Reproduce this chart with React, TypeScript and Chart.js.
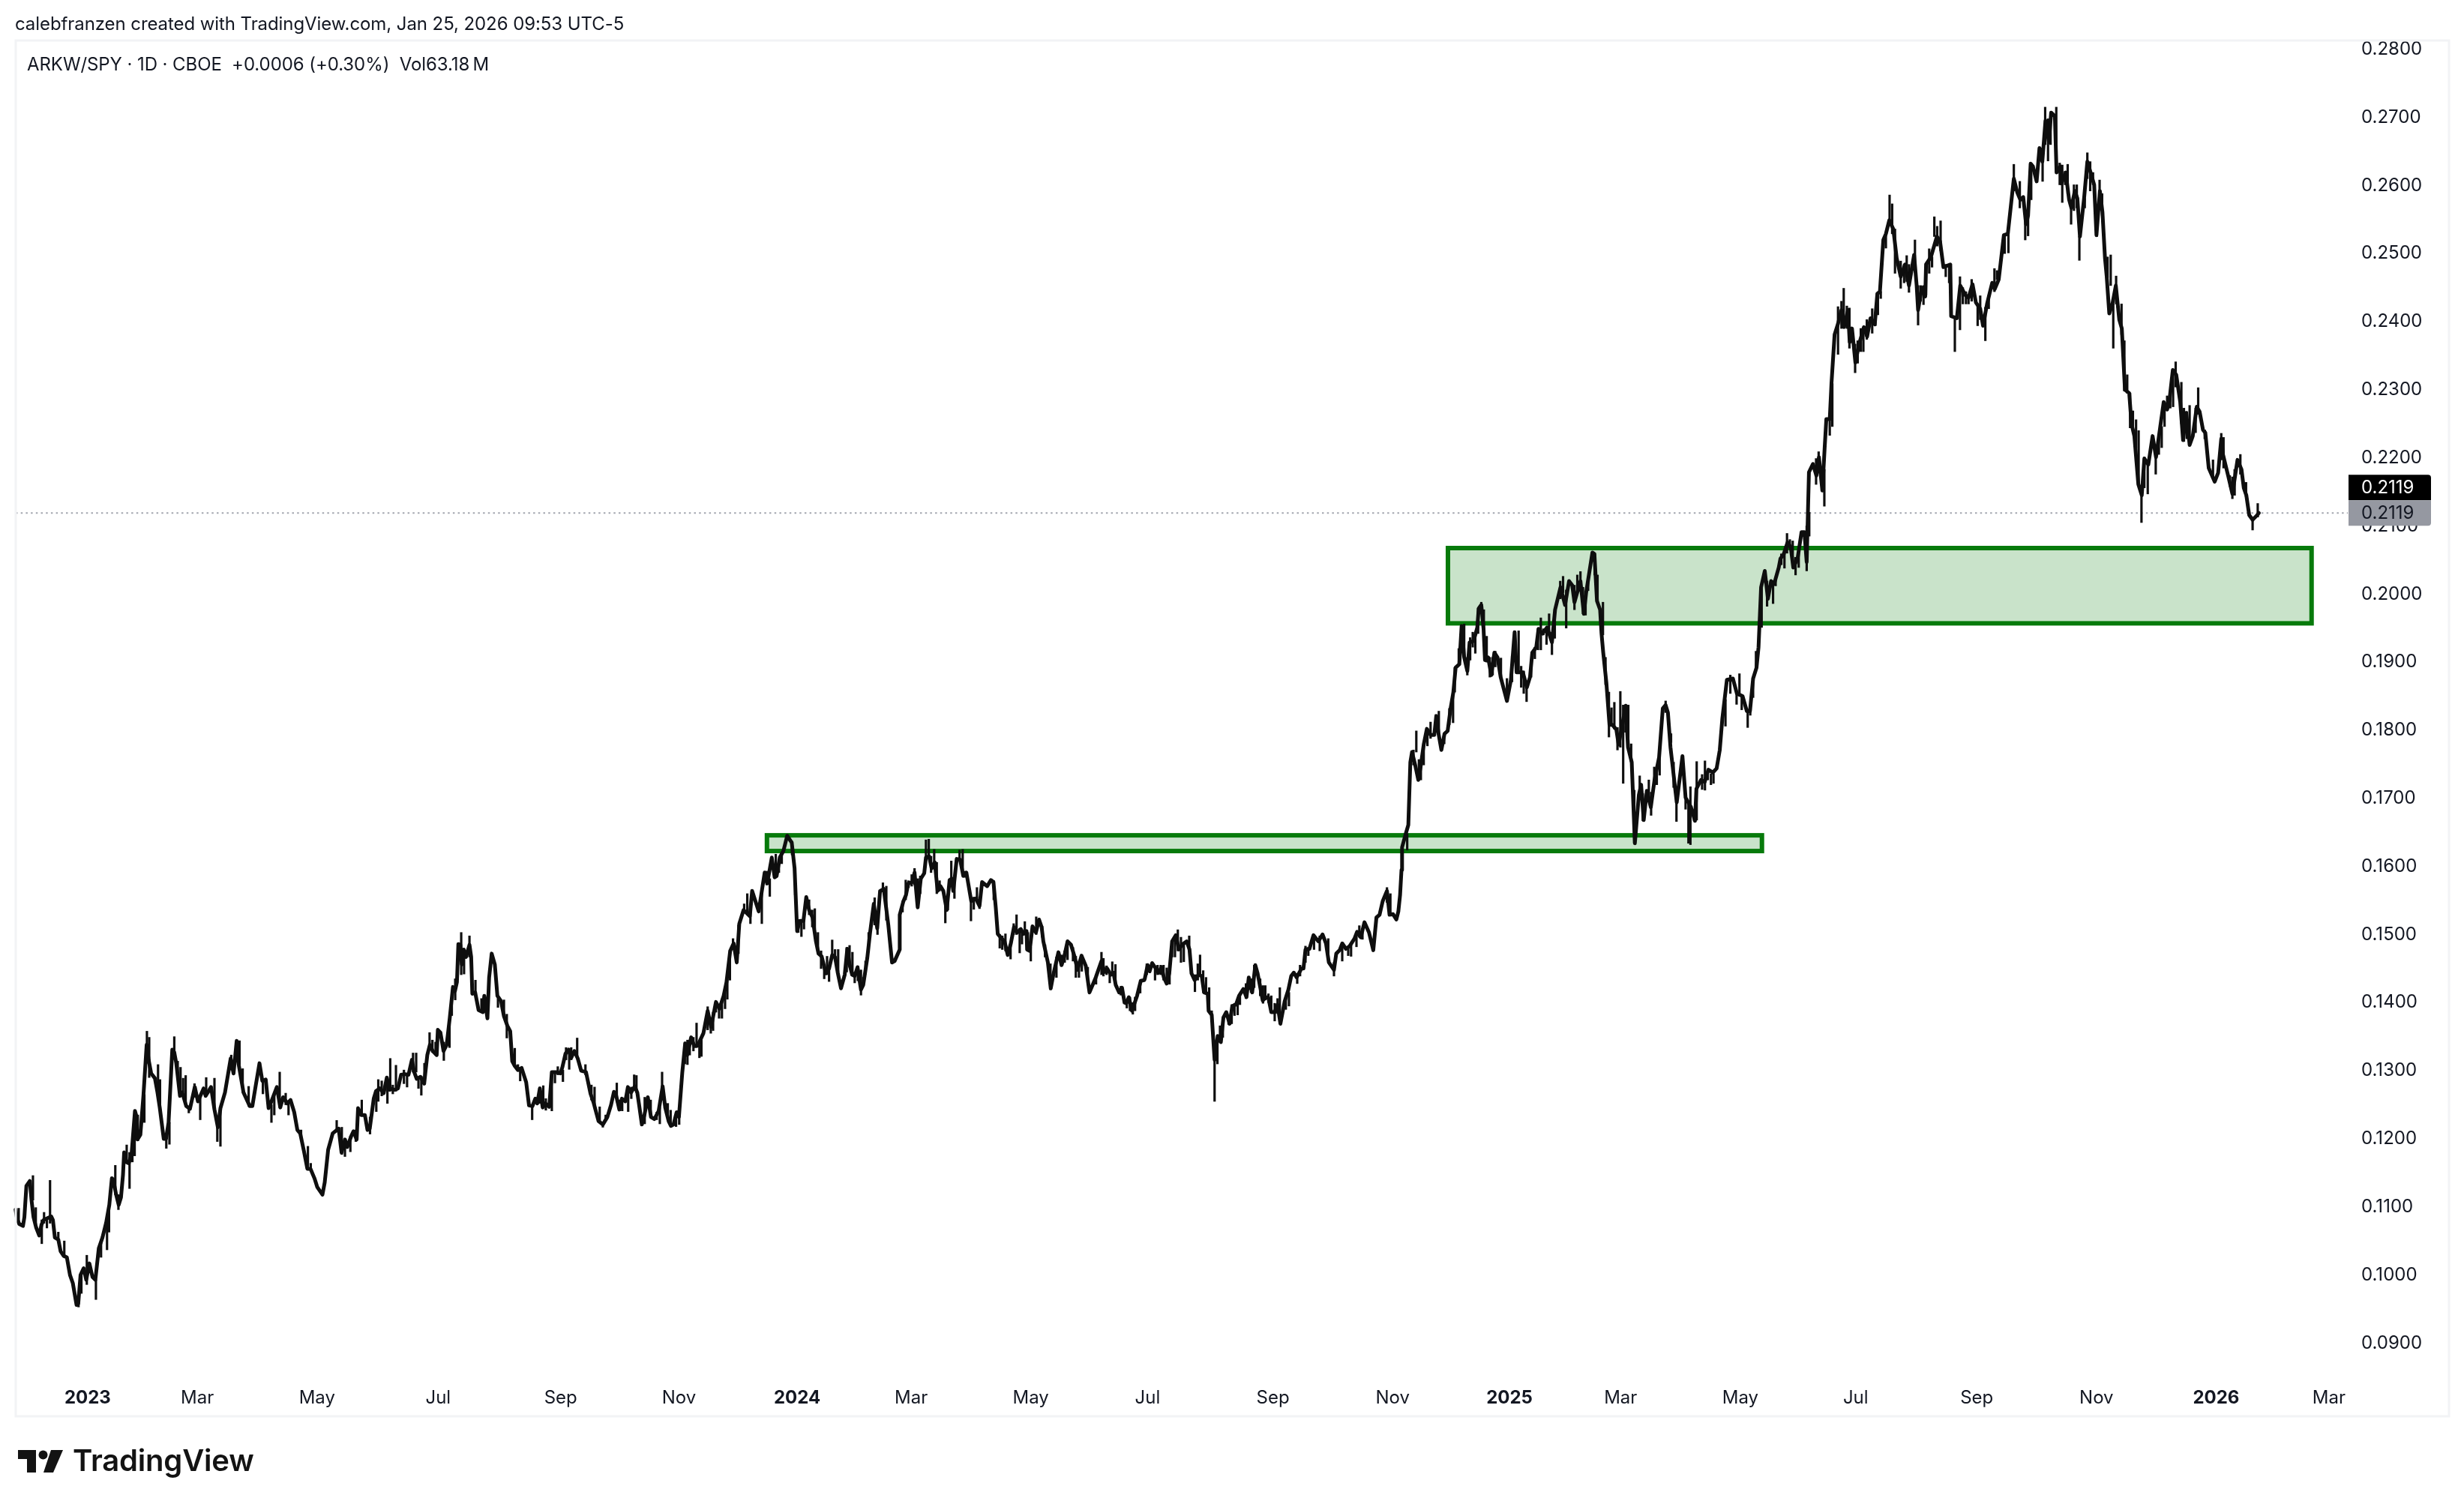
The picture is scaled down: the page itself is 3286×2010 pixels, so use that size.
import React, { useEffect, useRef } from 'react';
import { Chart, registerables } from 'chart.js';

Chart.register(...registerables);

// x is the trading-bar number, 0 = first session of 2023. Prices are stored x 10000.
const PRICE_UNIT = 10000;

const monthBars = [0, 38.5, 80.5, 123, 166, 207.5, 249, 289, 331, 372, 416, 458, 499, 538, 580, 620.5, 663, 705, 747, 786.6];
const monthLabels = ['2023', 'Mar', 'May', 'Jul', 'Sep', 'Nov', '2024', 'Mar', 'May', 'Jul', 'Sep', 'Nov', '2025', 'Mar', 'May', 'Jul', 'Sep', 'Nov', '2026', 'Mar'];
const priceTicks = [0.09, 0.1, 0.11, 0.12, 0.13, 0.14, 0.15, 0.16, 0.17, 0.18, 0.19, 0.2, 0.21, 0.22, 0.23, 0.24, 0.25, 0.26, 0.27, 0.28];

const lastPrice = 0.2119;

// supply/demand zones: [first bar, last bar, top price, bottom price]
const zoneBars = [[477.4, 780.5], [238.4, 587.6]];
const zonePrices = [[0.20675, 0.1957], [0.16457, 0.16226]];

const closeBars = [
  -25.3, -24.8, -24.0, -22.7, -22.2, -21.5, -20.3, -19.7, -19.0, -18.1, -17.0, -16.2, -15.4, -12.8, -12.2, -11.5, -10.3, -9.5, -8.4, -7.3,
  -6.2, -5.2, -3.9, -3.3, -2.5, -1.4, -0.5, 0.6, 1.7, 2.7, 3.9, 5.2, 6.5, 7.6, 8.5, 9.0, 10.0, 10.9, 11.7, 12.4,
  12.8, 13.5, 14.4, 15.4, 16.6, 17.0, 17.5, 18.5, 19.6, 20.7, 21.4, 22.3, 23.6, 24.5, 25.3, 26.7, 27.5, 28.4, 29.7, 30.4,
  31.1, 32.4, 33.2, 34.6, 35.9, 37.6, 38.7, 40.7, 41.4, 43.3, 44.5, 45.7, 46.6, 48.2, 50.2, 51.2, 52.3, 53.0, 54.7, 56.9,
  57.8, 58.9, 60.3, 61.3, 62.5, 63.5, 64.4, 66.4, 67.6, 68.6, 70.1, 71.2, 72.5, 73.6, 74.6, 75.9, 77.1, 78.2, 79.6, 80.6,
  82.4, 83.2, 84.4, 86.0, 88.1, 89.1, 90.3, 91.1, 92.5, 93.3, 94.4, 94.9, 96.0, 97.3, 98.2, 99.0, 100.4, 101.2, 102.5, 103.9,
  105.0, 105.9,
  106.1, 107.8, 108.9, 110.0, 111.3, 112.6, 113.8, 114.6, 115.5, 116.8, 118.1, 119.2, 120.1, 121.1, 122.5, 122.9, 123.8, 124.9, 126.0, 127.1,
  128.2, 128.9, 129.6, 130.1, 130.8, 131.3, 132.0, 132.8, 134.0, 134.6, 135.0, 136.0, 137.2, 138.7, 139.2, 140.3, 140.9, 141.8, 142.9, 143.8,
  145.1, 146.1, 147.3, 148.3, 149.0, 149.9, 151.0, 152.3, 153.9, 154.9, 156.1, 157.1, 157.8, 158.7, 159.7, 160.6, 162.0, 162.9, 164.4, 165.9,
  166.6, 167.7, 168.8, 169.7, 170.8, 172.0, 173.2, 174.9, 176.5, 177.5, 179.3, 180.8, 182.4, 183.7, 184.7, 185.4, 186.6, 187.5, 188.7, 189.6,
  190.7, 192.0, 192.9, 193.6, 194.5, 195.4, 196.6, 197.7, 198.9, 200.4, 201.8, 202.7, 203.9, 204.7, 205.6, 206.7, 207.5, 208.7, 209.7, 210.4,
  211.8, 212.9, 214.1, 216.1, 217.6, 218.8, 220.5, 221.7, 223.2, 224.2, 225.5, 226.7, 227.8, 228.7, 230.2, 232.4, 233.2, 235.5,
  237.6, 238.5, 240.1, 241.1, 241.8, 242.9, 244.2, 245.5, 247.1, 248.1, 249.0, 249.9, 251.2, 252.2, 253.2, 254.4, 255.6, 256.5, 257.6, 259.1,
  260.2, 261.3, 262.3, 263.2, 264.4, 265.7, 266.6, 267.4, 268.3, 269.2, 270.2, 271.4, 272.2, 273.6, 274.6, 275.9, 277.1, 278.1, 279.4, 281.0,
  282.3, 283.2, 285.0, 285.0, 286.3, 287.2, 288.0, 289.4, 290.2, 291.3, 292.4, 293.6, 294.2, 295.3, 296.2, 297.3, 298.3, 299.3, 300.3, 301.5,
  302.5, 303.2, 303.8, 305.0, 306.2, 307.3, 308.4, 310.1, 311.7, 313.0, 313.9, 315.7, 317.0, 317.9, 318.7, 319.4, 320.8, 321.8, 322.9, 324.0,
  325.1, 326.2, 327.5, 328.4, 329.5, 329.7, 330.6, 331.6, 332.8, 333.9, 334.8, 335.4, 337.0, 338.0, 338.9, 340.7, 341.8, 342.7, 343.9, 345.1,
  346.4, 347.4, 348.8, 350.3, 351.6, 353.8, 355.8, 356.9, 357.8, 359.1, 360.0, 360.8, 362.0, 363.0, 363.9, 364.5, 365.4, 366.5, 368.3, 369.6, 370.8,
  371.0, 372.0, 372.7, 373.6, 374.9, 375.8, 376.9, 377.7, 378.7, 379.6, 380.6, 381.9, 383.0, 384.1, 385.7, 386.7, 387.4, 388.5, 389.8, 391.0,
  391.8, 393.1, 393.4, 394.5, 395.5, 396.6, 397.7, 398.6, 399.6, 400.8, 401.7, 403.0, 404.1, 405.6, 406.7, 407.5, 408.7, 409.8, 410.6, 412.4,
  413.5, 414.4, 415.4, 416.6, 417.6, 418.6, 420.1, 421.4, 422.4, 423.3, 424.3, 426.0, 426.7, 427.4, 428.8, 430.2, 431.9, 433.4, 434.6, 435.6,
  437.4, 438.2, 439.4, 440.3, 441.6, 442.9, 444.6, 445.5, 446.8, 448.1, 449.7, 451.2, 452.3, 453.4, 454.5, 456.0, 456.9, 458.1, 459.3, 460.0,
  460.6, 461.1,
  461.3, 462.6, 463.5, 464.2, 464.8, 465.9, 467.0, 467.8, 468.9, 470.0, 471.3, 472.6, 473.3, 474.1, 475.1, 476.2, 477.3, 478.4, 479.3, 480.1,
  481.4, 482.2, 483.1, 484.2, 485.0, 486.4, 487.7, 488.2, 489.1, 489.9, 490.4, 491.5, 492.6, 493.7, 494.8, 495.9, 498.1, 499.5, 500.8, 501.5,
  503.7, 505.1, 506.2, 507.0, 508.4, 509.2, 510.6, 512.2, 513.9, 515.0, 516.9, 518.5, 519.9, 521.0, 521.8, 523.9, 525.1, 525.9, 528.1, 528.8,
  529.7, 530.8, 531.3, 531.9, 533.0, 534.1, 535.1, 536.5, 537.3, 538.4, 539.8, 540.6, 541.9, 543.0, 544.4, 545.2, 546.1, 547.2, 548.6, 549.9,
  551.5, 552.8, 553.8, 554.6, 555.5, 557.7, 559.7, 560.8, 562.7, 564.1, 564.6, 566.2, 567.5, 568.8, 570.4, 571.7, 572.8, 573.7, 575.3, 577.4,
  578.8, 580.8, 582.3, 583.4, 584.5, 585.7, 586.4, 587.3, 588.6, 589.7, 590.8, 591.9, 593.5, 594.1, 595.2, 596.6, 597.7, 598.6, 600.1, 601.5,
  602.5, 603.3,
  604.1, 605.5, 606.7, 607.6, 608.8, 609.6, 610.2, 611.4, 612.0, 613.1, 614.3, 615.5, 616.4, 617.8, 618.4, 619.2, 620.4, 621.7, 623.4, 624.5,
  625.7, 627.2, 628.1, 629.0, 630.2, 631.1, 632.3, 633.7, 634.9, 636.3, 637.8, 639.2, 641.0, 641.9, 642.4, 643.7, 644.9, 645.2, 646.9, 649.0,
  650.1, 651.3, 653.7, 654.0, 656.0, 657.2, 659.0, 660.1, 661.5, 662.7, 664.2, 665.2, 666.6, 668.4, 669.3, 670.7, 672.5, 673.9, 676.0, 677.2,
  678.3, 679.3, 680.3, 681.0, 681.9, 682.7, 684.0, 685.0, 686.0, 687.1, 688.3, 689.1, 690.4, 691.0, 692.4, 692.7, 694.2, 695.4, 696.2, 697.4,
  698.3, 699.2, 700.7, 701.8, 702.8, 704.2, 705.0, 706.2, 707.1, 708.0, 708.6, 709.5, 710.6, 711.8, 713.0, 713.9, 715.0, 716.5, 717.3, 718.3,
  719.7, 720.9, 721.8, 723.2, 724.7, 725.9, 727.4, 728.6, 729.8, 730.6, 731.8, 733.0, 734.4, 735.4, 736.5, 737.7, 738.8, 740.2, 741.2, 742.4,
  743.2, 744.4, 746.5, 747.7, 748.8, 749.4, 751.2, 752.7, 754.5, 755.9, 756.7, 757.6, 758.6, 759.8, 761.2, 762.0,
];

const closeValues = [
  1096, 1083, 1075, 1072, 1085, 1131, 1138, 1110, 1085, 1070, 1058, 1074, 1081, 1086, 1081, 1055, 1052, 1035, 1028, 1026,
  1000, 988, 956, 958, 1000, 1010, 993, 1017, 997, 993, 1039, 1055, 1077, 1103, 1142, 1140, 1118, 1103, 1114, 1147,
  1180, 1166, 1164, 1177, 1241, 1235, 1199, 1206, 1265, 1338, 1316, 1296, 1289, 1268, 1246, 1200, 1200, 1224, 1331, 1327,
  1311, 1263, 1268, 1248, 1244, 1276, 1255, 1274, 1263, 1276, 1243, 1217, 1245, 1268, 1318, 1296, 1344, 1309, 1268, 1248,
  1248, 1276, 1311, 1285, 1287, 1245, 1254, 1276, 1246, 1261, 1252, 1257, 1239, 1213, 1208, 1182, 1156, 1156, 1142, 1129,
  1118, 1136, 1184, 1208, 1215, 1180, 1199, 1188, 1204, 1211, 1199, 1245, 1235, 1235, 1213, 1215, 1259, 1270, 1274, 1267,
  1290, 1272,
  1274, 1272, 1274, 1294, 1295, 1294, 1316, 1298, 1288, 1291, 1281, 1323, 1338, 1329, 1323, 1360, 1356, 1329, 1338, 1378,
  1423, 1417, 1430, 1486, 1485, 1456, 1478, 1467, 1485, 1467, 1413, 1415, 1389, 1386, 1410, 1377, 1437, 1472, 1456, 1410,
  1402, 1380, 1366, 1358, 1314, 1307, 1301, 1304, 1283, 1249, 1248, 1259, 1252, 1274, 1246, 1252, 1247, 1298, 1298, 1296,
  1305, 1325, 1331, 1319, 1329, 1318, 1300, 1298, 1266, 1254, 1226, 1221, 1232, 1250, 1269, 1265, 1243, 1259, 1255, 1276,
  1268, 1277, 1268, 1248, 1221, 1235, 1261, 1232, 1229, 1241, 1277, 1246, 1226, 1219, 1221, 1239, 1232, 1298, 1340, 1323,
  1349, 1336, 1337, 1355, 1388, 1364, 1401, 1391, 1410, 1430, 1476, 1487, 1459, 1516, 1536, 1527, 1564, 1534,
  1591, 1575, 1613, 1584, 1586, 1613, 1623, 1645, 1635, 1597, 1505, 1520, 1520, 1555, 1536, 1525, 1490, 1472, 1468, 1443,
  1450, 1470, 1467, 1445, 1421, 1441, 1479, 1456, 1441, 1439, 1452, 1419, 1426, 1465, 1503, 1545, 1509, 1564, 1567, 1514,
  1459, 1461, 1478, 1529, 1549, 1558, 1575, 1577, 1591, 1540, 1582, 1590, 1613, 1615, 1597, 1606, 1564, 1571, 1564, 1536,
  1580, 1582, 1564, 1611, 1610, 1586, 1591, 1549, 1553, 1542, 1577, 1571, 1580, 1577, 1540, 1501, 1494, 1490, 1470, 1487,
  1511, 1503, 1508, 1501, 1505, 1478, 1476, 1512, 1503, 1522, 1511, 1490, 1459, 1421, 1441, 1474, 1455, 1467, 1490, 1485,
  1467, 1448, 1469, 1454, 1415, 1437, 1461, 1445, 1450, 1441, 1444, 1426, 1415, 1422, 1400, 1399, 1408, 1388, 1410, 1432, 1433,
  1435, 1455, 1446, 1458, 1450, 1444, 1452, 1437, 1428, 1443, 1490, 1499, 1478, 1485, 1490, 1478, 1443, 1433, 1441, 1439,
  1415, 1413, 1388, 1382, 1316, 1351, 1342, 1378, 1386, 1369, 1395, 1397, 1410, 1420, 1408, 1437, 1415, 1455, 1443, 1403,
  1408, 1407, 1386, 1386, 1397, 1369, 1402, 1419, 1439, 1444, 1437, 1450, 1450, 1478, 1479, 1499, 1490, 1500, 1487, 1459,
  1448, 1472, 1477, 1487, 1479, 1483, 1494, 1504, 1496, 1518, 1503, 1477, 1525, 1529, 1549, 1564, 1529, 1530, 1522, 1534,
  1558, 1595,
  1628, 1648, 1661, 1753, 1768, 1749, 1727, 1746, 1779, 1802, 1793, 1793, 1821, 1795, 1771, 1795, 1799, 1834, 1856, 1892,
  1897, 1953, 1907, 1887, 1929, 1931, 1951, 1979, 1984, 1949, 1903, 1907, 1881, 1914, 1907, 1878, 1843, 1874, 1944, 1885,
  1885, 1863, 1878, 1914, 1922, 1949, 1942, 1951, 1929, 1977, 2010, 1984, 2019, 2013, 1988, 2019, 1971, 2002, 2061, 2059,
  1990, 1977, 1942, 1914, 1870, 1808, 1808, 1801, 1779, 1804, 1836, 1775, 1753, 1634, 1705, 1720, 1668, 1711, 1687, 1727,
  1760, 1832, 1837, 1826, 1775, 1694, 1762, 1701, 1687, 1667, 1714, 1727, 1724, 1742, 1738, 1744, 1771, 1817, 1874, 1876,
  1854, 1850, 1828, 1828, 1876, 1892, 1922, 2010, 2034, 1993, 2019, 2015, 2039, 2052, 2058, 2076, 2069, 2039, 2052, 2091,
  2091, 2047,
  2179, 2191, 2174, 2201, 2152, 2214, 2257, 2257, 2309, 2381, 2397, 2417, 2392, 2417, 2370, 2390, 2340, 2367, 2392, 2378,
  2405, 2396, 2441, 2444, 2520, 2529, 2549, 2536, 2493, 2466, 2484, 2453, 2498, 2453, 2417, 2450, 2437, 2484, 2495, 2525,
  2518, 2480, 2484, 2408, 2405, 2453, 2439, 2435, 2455, 2428, 2419, 2394, 2426, 2457, 2448, 2462, 2527, 2529, 2610, 2590,
  2579, 2583, 2543, 2556, 2632, 2628, 2606, 2655, 2635, 2695, 2664, 2707, 2702, 2619, 2628, 2603, 2619, 2579, 2567, 2592,
  2581, 2525, 2583, 2635, 2621, 2601, 2527, 2592, 2561, 2493, 2466, 2412, 2426, 2453, 2403, 2390, 2300, 2295, 2250, 2232,
  2161, 2145, 2199, 2190, 2232, 2201, 2246, 2282, 2271, 2284, 2329, 2322, 2282, 2226, 2266, 2219, 2232, 2275, 2268, 2241,
  2237, 2185, 2165, 2178, 2228, 2205, 2174, 2147, 2197, 2183, 2156, 2145, 2116, 2109, 2115, 2119,
];

// high/low wicks that stick out of the close line: [bar, high, low] per row
const wickRows = [
  [-24.2, 1098, 1077], [-19.2, 1146, 1110], [-18.2, 1099, 1070], [-16.1, 1081, 1046], [-15.3, 1092, 1076], [-14.3, 1085, 1069], [-13.2, 1139, 1076], [-10.3, 1063, 1052], [-8.2, 1050, 1028], [-3.2, 971, 953],
  [-2.2, 1000, 973], [-0.3, 1029, 986], [2.9, 993, 964], [4.7, 1052, 1026], [6.8, 1081, 1037], [7.5, 1096, 1063], [9.7, 1161, 1118], [10.8, 1118, 1096], [13.7, 1191, 1169], [14.7, 1180, 1127],
  [15.7, 1191, 1166], [16.5, 1239, 1175], [17.6, 1235, 1197], [19.9, 1265, 1224], [20.8, 1358, 1320], [21.6, 1349, 1290], [24.7, 1309, 1265], [25.4, 1287, 1243], [27.6, 1200, 1186], [28.7, 1224, 1192],
  [30.4, 1350, 1327], [31.6, 1314, 1294], [32.6, 1305, 1263], [33.5, 1289, 1268], [34.4, 1293, 1248], [35.5, 1244, 1238], [37.5, 1281, 1261], [39.5, 1261, 1228], [41.6, 1290, 1263], [44.5, 1289, 1243],
  [45.5, 1217, 1196], [46.6, 1243, 1189], [50.4, 1323, 1301], [53.3, 1344, 1309], [54.4, 1303, 1268], [56.5, 1277, 1248], [61.5, 1285, 1266], [64.5, 1250, 1224], [65.5, 1265, 1235], [67.4, 1298, 1246],
  [69.5, 1267, 1250], [70.5, 1252, 1235], [74.9, 1213, 1202], [77.3, 1189, 1156], [78.3, 1164, 1155], [87.4, 1227, 1210], [89.2, 1217, 1177], [90.3, 1199, 1174], [92.2, 1204, 1181], [94.1, 1213, 1196],
  [96.2, 1257, 1235], [99.1, 1232, 1207], [101.3, 1270, 1240], [102.0, 1287, 1255], [103.2, 1285, 1263], [105.2, 1289, 1252], [106.2, 1318, 1270], [108.2, 1308, 1270],
  [107.1, 1279, 1266], [111.0, 1301, 1281], [112.1, 1296, 1276], [114.2, 1326, 1298], [115.3, 1326, 1298], [116.1, 1288, 1274], [117.1, 1292, 1264], [118.2, 1311, 1281], [120.0, 1356, 1331], [121.0, 1345, 1327],
  [122.1, 1342, 1323], [125.0, 1342, 1315], [127.0, 1367, 1334], [127.8, 1404, 1381], [129.0, 1435, 1404], [131.1, 1503, 1441], [132.1, 1478, 1442], [134.0, 1498, 1467], [136.1, 1433, 1413], [138.2, 1406, 1386],
  [139.2, 1411, 1386], [144.0, 1406, 1393], [146.1, 1404, 1380], [147.1, 1383, 1348], [149.9, 1333, 1309], [151.0, 1309, 1300], [151.8, 1305, 1285], [156.0, 1248, 1228], [158.7, 1276, 1252], [159.9, 1278, 1246],
  [160.8, 1259, 1242], [162.9, 1298, 1241], [164.0, 1298, 1282], [165.0, 1306, 1294], [166.8, 1301, 1284], [167.9, 1334, 1316], [169.0, 1327, 1302], [169.7, 1334, 1316], [171.8, 1348, 1320], [174.7, 1309, 1294],
  [176.8, 1279, 1257], [177.9, 1276, 1250], [179.7, 1247, 1224], [180.8, 1224, 1217], [181.8, 1235, 1229], [185.7, 1282, 1254], [186.7, 1257, 1241], [187.6, 1259, 1241], [189.7, 1272, 1240], [190.8, 1276, 1259],
  [191.8, 1294, 1272], [192.6, 1293, 1268], [195.5, 1261, 1222], [197.6, 1257, 1232], [199.7, 1239, 1228], [200.8, 1246, 1222], [201.6, 1298, 1257], [203.6, 1252, 1228], [204.6, 1242, 1219], [206.5, 1239, 1218],
  [207.6, 1235, 1221], [209.6, 1342, 1310], [210.5, 1345, 1309], [211.3, 1345, 1323], [212.6, 1349, 1329], [213.7, 1370, 1334], [214.7, 1338, 1319], [215.4, 1347, 1321], [217.6, 1394, 1360], [218.7, 1375, 1355],
  [219.5, 1386, 1359], [220.5, 1402, 1386], [221.6, 1393, 1377], [222.6, 1404, 1377], [223.7, 1415, 1391], [224.5, 1434, 1405], [225.4, 1476, 1433], [226.5, 1494, 1481], [228.4, 1514, 1472], [230.4, 1545, 1533],
  [231.5, 1560, 1529], [232.6, 1540, 1516], [236.6, 1562, 1516],
  [238.3, 1593, 1573], [239.4, 1582, 1556], [241.5, 1618, 1584], [242.6, 1606, 1591], [243.6, 1617, 1604], [247.2, 1637, 1617], [248.3, 1597, 1558], [249.4, 1520, 1503], [250.5, 1520, 1497], [251.4, 1522, 1508],
  [253.2, 1551, 1529], [254.3, 1536, 1511], [255.2, 1538, 1509], [256.3, 1503, 1474], [257.4, 1476, 1450], [258.5, 1455, 1435], [259.5, 1468, 1441], [260.2, 1450, 1431], [261.3, 1492, 1466], [262.3, 1478, 1461],
  [263.4, 1478, 1445], [266.4, 1481, 1445], [267.4, 1484, 1452], [268.4, 1474, 1441], [269.2, 1445, 1429], [270.3, 1454, 1432], [271.4, 1448, 1411], [272.2, 1437, 1424], [273.0, 1461, 1442], [274.1, 1503, 1474],
  [276.2, 1554, 1514], [277.2, 1525, 1500], [279.1, 1576, 1564], [280.3, 1571, 1521], [286.0, 1549, 1533], [287.1, 1580, 1551], [288.1, 1579, 1569], [289.2, 1588, 1571], [290.2, 1597, 1573], [291.3, 1582, 1538],
  [292.2, 1586, 1560], [294.2, 1639, 1613], [295.2, 1640, 1615], [296.0, 1615, 1591], [297.1, 1625, 1597], [298.0, 1606, 1560], [299.0, 1579, 1564], [301.0, 1547, 1517], [301.9, 1558, 1536], [303.1, 1608, 1573],
  [304.2, 1577, 1553], [306.0, 1624, 1611], [307.1, 1625, 1591], [308.0, 1593, 1584], [310.0, 1551, 1520], [311.0, 1555, 1537], [312.1, 1569, 1551], [313.0, 1555, 1538], [318.0, 1579, 1551], [320.1, 1500, 1480],
  [321.0, 1498, 1478], [322.1, 1501, 1476], [323.9, 1487, 1464], [325.0, 1516, 1500], [326.0, 1529, 1500], [327.1, 1509, 1473], [327.9, 1505, 1486], [328.9, 1519, 1500], [330.0, 1503, 1476], [331.0, 1481, 1461],
  [332.9, 1526, 1500], [335.0, 1512, 1496], [336.0, 1485, 1467], [337.9, 1457, 1419], [340.0, 1467, 1437], [341.8, 1470, 1454], [342.9, 1476, 1459], [343.9, 1490, 1463], [345.8, 1481, 1461], [346.8, 1468, 1437],
  [347.9, 1461, 1437], [348.9, 1470, 1446], [351.0, 1452, 1428], [353.9, 1437, 1427], [355.8, 1474, 1441], [356.5, 1465, 1439], [357.6, 1454, 1441], [358.7, 1441, 1429], [359.6, 1460, 1441], [360.7, 1456, 1430],
  [362.6, 1424, 1411], [364.7, 1399, 1392], [365.8, 1408, 1388], [366.8, 1400, 1383], [367.6, 1408, 1388], [369.4, 1432, 1414],
  [371.7, 1457, 1441], [372.8, 1455, 1444], [374.6, 1450, 1433], [375.5, 1455, 1441], [376.6, 1455, 1441], [377.6, 1455, 1433], [378.7, 1451, 1427], [379.7, 1443, 1427], [380.6, 1490, 1467], [381.6, 1498, 1467],
  [382.6, 1507, 1476], [383.7, 1496, 1459], [384.7, 1487, 1460], [386.6, 1498, 1478], [388.6, 1441, 1416], [389.6, 1457, 1433], [390.4, 1470, 1439], [391.5, 1447, 1415], [392.5, 1437, 1413], [393.6, 1422, 1386],
  [394.5, 1388, 1378], [395.5, 1316, 1255], [396.5, 1351, 1310], [397.4, 1366, 1342], [398.4, 1378, 1349], [400.4, 1378, 1368], [401.5, 1397, 1369], [402.5, 1399, 1381], [403.6, 1400, 1382], [404.4, 1411, 1397],
  [406.5, 1428, 1406], [407.5, 1438, 1419], [408.3, 1435, 1415], [409.4, 1455, 1422], [411.5, 1435, 1410], [412.5, 1425, 1399], [413.3, 1425, 1404], [414.4, 1413, 1400], [415.4, 1410, 1386], [416.6, 1399, 1373],
  [417.6, 1406, 1384], [418.4, 1422, 1369], [420.5, 1406, 1390], [421.6, 1415, 1395], [424.5, 1443, 1428], [425.5, 1455, 1439], [427.4, 1483, 1459], [428.4, 1481, 1469], [430.4, 1500, 1478], [432.4, 1498, 1476],
  [435.4, 1494, 1468], [437.4, 1459, 1439], [440.3, 1487, 1461], [442.4, 1479, 1469], [443.4, 1485, 1468], [445.3, 1501, 1482], [446.3, 1513, 1496], [447.4, 1507, 1493], [456.0, 1569, 1547], [457.2, 1560, 1529],
  [463.1, 1648, 1624], [465.3, 1771, 1749], [466.3, 1799, 1768], [467.2, 1757, 1729], [467.9, 1749, 1727], [468.9, 1779, 1749], [470.2, 1802, 1777], [471.3, 1812, 1788], [473.2, 1823, 1799], [474.2, 1828, 1795],
  [476.1, 1795, 1780], [477.9, 1832, 1808], [479.2, 1857, 1811], [479.8, 1892, 1856], [481.2, 1920, 1897], [482.1, 1955, 1918], [483.1, 1956, 1903], [484.2, 1907, 1881], [485.2, 1936, 1903], [486.1, 1944, 1922],
  [487.0, 1936, 1913], [488.0, 1979, 1942], [489.1, 1988, 1975], [490.0, 1977, 1947], [491.0, 1938, 1900], [492.1, 1907, 1878], [493.1, 1907, 1881], [494.0, 1916, 1893], [496.0, 1906, 1878], [498.1, 1876, 1843],
  [499.9, 1909, 1871], [500.8, 1946, 1914], [502.2, 1946, 1885], [503.1, 1894, 1863], [504.0, 1887, 1854], [505.0, 1863, 1842], [506.6, 1903, 1878], [507.9, 1922, 1905], [509.0, 1949, 1918], [510.0, 1965, 1918],
  [510.9, 1949, 1940], [512.0, 1949, 1926], [512.9, 1971, 1942], [513.9, 1944, 1911], [514.9, 1977, 1935], [516.8, 2019, 1993], [517.8, 2026, 2002], [518.9, 2006, 1950], [521.8, 2013, 1977], [522.8, 2028, 2004],
  [523.9, 2033, 2019], [524.8, 2010, 1971], [525.7, 2004, 1969], [526.6, 2019, 2005], [528.9, 2059, 2028], [529.9, 2028, 1990], [531.8, 1988, 1940], [532.7, 1907, 1867], [533.9, 1856, 1790], [534.8, 1833, 1808],
  [535.8, 1841, 1802], [536.9, 1804, 1771], [537.9, 1857, 1775], [538.9, 1837, 1722], [539.7, 1836, 1797], [540.7, 1837, 1777], [541.7, 1780, 1753], [542.8, 1712, 1634], [544.7, 1733, 1698], [545.8, 1707, 1667],
  [547.9, 1727, 1698], [548.7, 1709, 1675], [549.8, 1746, 1720], [550.7, 1742, 1720], [551.7, 1766, 1734], [553.8, 1843, 1826], [555.7, 1795, 1782], [556.6, 1753, 1716], [557.6, 1698, 1666], [559.7, 1762, 1734],
  [560.8, 1701, 1684], [561.8, 1692, 1634], [562.5, 1717, 1632], [563.8, 1683, 1667], [564.7, 1754, 1668], [566.6, 1735, 1713], [567.6, 1755, 1712], [568.6, 1742, 1727], [569.7, 1736, 1720], [570.6, 1736, 1722],
  [574.8, 1845, 1806], [576.5, 1881, 1854], [578.7, 1854, 1838], [579.7, 1883, 1850], [580.5, 1852, 1830], [582.6, 1828, 1804], [583.5, 1828, 1822], [584.5, 1876, 1848], [585.5, 1916, 1889], [587.5, 2010, 1951],
  [589.4, 2019, 1982], [591.5, 2015, 1986], [592.4, 2021, 2012], [594.4, 2059, 2043], [595.5, 2059, 2038], [596.4, 2089, 2060], [597.4, 2080, 2067], [598.4, 2078, 2039], [599.4, 2054, 2028], [600.5, 2063, 2039],
  [603.3, 2100, 2034], [604.2, 2120, 2085],
  [606.6, 2199, 2161], [607.5, 2209, 2183], [609.5, 2183, 2129], [611.4, 2257, 2233], [612.3, 2309, 2246], [614.3, 2422, 2352], [615.5, 2430, 2390], [616.3, 2449, 2391], [617.4, 2423, 2390], [618.3, 2420, 2361],
  [620.3, 2367, 2325], [621.2, 2372, 2339], [622.3, 2390, 2356], [623.2, 2392, 2356], [624.4, 2403, 2374], [626.3, 2419, 2383], [627.4, 2412, 2394], [628.3, 2441, 2410], [629.3, 2444, 2434], [631.1, 2529, 2508],
  [632.4, 2586, 2547], [633.3, 2573, 2529], [634.3, 2536, 2471], [636.3, 2489, 2449], [637.5, 2484, 2457], [638.4, 2497, 2459], [639.2, 2484, 2443], [641.3, 2520, 2486], [642.4, 2453, 2395], [643.3, 2453, 2430],
  [644.3, 2453, 2425], [645.2, 2484, 2439], [646.3, 2507, 2471], [647.3, 2495, 2480], [648.1, 2554, 2525], [649.1, 2540, 2511], [650.3, 2548, 2504], [652.1, 2484, 2466], [653.3, 2484, 2457], [655.3, 2405, 2356],
  [657.1, 2466, 2388], [658.1, 2450, 2426], [659.2, 2444, 2426], [660.1, 2439, 2426], [661.2, 2462, 2430], [663.3, 2426, 2394], [664.2, 2438, 2403], [666.0, 2421, 2372], [667.2, 2439, 2419], [669.2, 2478, 2444],
  [670.1, 2475, 2462], [672.8, 2529, 2500], [674.1, 2529, 2501], [676.0, 2631, 2592], [678.1, 2606, 2567], [680.0, 2552, 2520], [681.0, 2556, 2526], [682.1, 2633, 2579], [685.0, 2655, 2639], [686.1, 2655, 2606],
  [687.0, 2715, 2660], [688.0, 2698, 2636], [688.9, 2707, 2660], [690.9, 2715, 2619], [692.1, 2633, 2601], [693.0, 2630, 2575], [694.0, 2621, 2601], [694.9, 2631, 2588], [696.1, 2572, 2543], [697.1, 2601, 2563],
  [698.1, 2601, 2567], [699.0, 2525, 2490], [700.9, 2581, 2567], [701.8, 2648, 2610], [702.8, 2635, 2592], [703.8, 2619, 2601], [705.1, 2563, 2525], [706.1, 2608, 2565], [707.0, 2588, 2556], [708.9, 2495, 2465],
  [710.0, 2498, 2453], [710.9, 2426, 2361], [711.9, 2467, 2426], [713.8, 2426, 2381], [714.8, 2372, 2298], [715.8, 2322, 2295], [716.8, 2295, 2244], [717.8, 2269, 2246], [718.9, 2256, 2215], [719.8, 2240, 2161],
  [720.8, 2145, 2105], [721.8, 2201, 2156], [723.0, 2190, 2147], [725.8, 2205, 2176], [726.9, 2232, 2205], [727.9, 2246, 2215], [728.9, 2282, 2246], [729.8, 2291, 2271], [730.9, 2293, 2273], [731.9, 2329, 2275],
  [732.8, 2341, 2304], [734.8, 2311, 2250], [735.7, 2273, 2224], [736.7, 2268, 2228], [737.7, 2277, 2219], [739.8, 2273, 2237], [740.7, 2303, 2264], [743.0, 2241, 2228], [745.9, 2197, 2172], [748.8, 2236, 2197],
  [749.6, 2230, 2185], [751.8, 2174, 2158], [752.7, 2172, 2140], [753.5, 2183, 2145], [755.5, 2205, 2176], [757.5, 2164, 2143], [759.8, 2111, 2094], [761.6, 2133, 2113],
];

const FONT = 'Inter, "Noto Sans", sans-serif';
const INK = '#131722';

// zones + dotted last price under the series, frame and price badges on top
const overlayPlugin = {
  id: 'overlay',
  beforeDatasetsDraw(chart: any) {
    const { ctx, chartArea, scales } = chart;
    zoneBars.forEach((bars, i) => {
      const x1 = scales.x.getPixelForValue(bars[0]);
      const x2 = scales.x.getPixelForValue(bars[1]);
      const y1 = scales.y.getPixelForValue(zonePrices[i][0]);
      const y2 = scales.y.getPixelForValue(zonePrices[i][1]);
      ctx.save();
      ctx.fillStyle = '#c9e3ca';
      ctx.strokeStyle = '#077a0b';
      ctx.lineWidth = 6;
      ctx.fillRect(x1, y1, x2 - x1, y2 - y1);
      ctx.strokeRect(x1, y1, x2 - x1, y2 - y1);
      ctx.restore();
    });
    const lastY = scales.y.getPixelForValue(lastPrice);
    ctx.save();
    ctx.strokeStyle = '#a3a6af';
    ctx.lineWidth = 2;
    ctx.setLineDash([2.5, 4.2]);
    ctx.beginPath();
    ctx.moveTo(chartArea.left + 1, lastY);
    ctx.lineTo(chartArea.right, lastY);
    ctx.stroke();
    ctx.restore();
  },
  afterDraw(chart: any) {
    const { ctx, scales } = chart;
    const lastY = scales.y.getPixelForValue(lastPrice);
    ctx.save();
    ctx.strokeStyle = '#f2f3f5';
    ctx.lineWidth = 3;
    ctx.strokeRect(21, 54, 3245, 1835);

    const label = lastPrice.toFixed(4);
    ctx.font = `24px ${FONT}`;
    ctx.textBaseline = 'middle';
    ctx.textAlign = 'left';
    ctx.fillStyle = '#000000';
    ctx.beginPath();
    ctx.roundRect(3132, lastY - 51, 110, 34, [0, 4, 0, 0]);
    ctx.fill();
    ctx.fillStyle = '#ffffff';
    ctx.fillText(label, 3149, lastY - 33);
    ctx.fillStyle = '#9598a1';
    ctx.beginPath();
    ctx.roundRect(3132, lastY - 17, 110, 34, [0, 0, 4, 0]);
    ctx.fill();
    ctx.fillStyle = INK;
    ctx.fillText(label, 3149, lastY + 1);
    ctx.restore();
  },
};

const PriceChart: React.FC = () => {
  const canvasRef = useRef<HTMLCanvasElement>(null);

  useEffect(() => {
    if (!canvasRef.current) return;

    const chart = new Chart(canvasRef.current, {
      type: 'line',
      plugins: [overlayPlugin],
      data: {
        datasets: [
          {
            type: 'line',
            label: 'ARKW/SPY',
            data: closeBars.map((x, i) => ({ x, y: closeValues[i] / PRICE_UNIT })),
            borderColor: '#0e0e0e',
            borderWidth: 5,
            borderJoinStyle: 'round',
            borderCapStyle: 'round',
            pointRadius: 0,
            tension: 0,
            clip: false,
            order: 1,
          },
          {
            type: 'bar',
            label: 'High/Low',
            data: wickRows.map(r => ({ x: r[0], y: [r[2] / PRICE_UNIT, r[1] / PRICE_UNIT] })),
            backgroundColor: '#0e0e0e',
            barThickness: 2.5,
            grouped: false,
            order: 2,
          },
        ] as any,
      },
      options: {
        responsive: false,
        animation: false,
        devicePixelRatio: 1,
        layout: { padding: { left: 20, top: 53, right: 0, bottom: 0 } },
        plugins: { legend: { display: false }, tooltip: { enabled: false } },
        scales: {
          x: {
            type: 'linear',
            min: -25.5,
            max: 793.2,
            offset: false,
            grid: { display: false, offset: false, drawTicks: false },
            border: { display: false },
            afterBuildTicks: (axis: any) => {
              axis.ticks = monthBars.map(value => ({ value }));
            },
            afterFit: (axis: any) => {
              axis.height = 175;
            },
            ticks: {
              autoSkip: false,
              maxRotation: 0,
              padding: 15,
              color: INK,
              font: (c: any) => ({
                family: FONT,
                size: 24,
                weight: monthLabels[monthBars.indexOf(c.tick?.value)]?.startsWith('20') ? 'bold' : 'normal',
              }),
              callback: (v: any) => monthLabels[monthBars.indexOf(v)] ?? '',
            },
          },
          y: {
            type: 'linear',
            position: 'right',
            min: 0.0852,
            max: 0.2814,
            grid: { display: false, drawTicks: false },
            border: { display: false },
            afterBuildTicks: (axis: any) => {
              axis.ticks = priceTicks.map(value => ({ value }));
            },
            afterFit: (axis: any) => {
              axis.width = 155;
            },
            ticks: {
              autoSkip: false,
              padding: 18,
              color: INK,
              font: { family: FONT, size: 24 },
              callback: (v: any) => Number(v).toFixed(4),
            },
          },
        },
      },
    });

    return () => chart.destroy();
  }, []);

  return <canvas ref={canvasRef} width={3286} height={2010} style={{ display: 'block' }} />;
};

const textStyle: React.CSSProperties = {
  position: 'absolute',
  fontFamily: FONT,
  fontSize: 24,
  lineHeight: '30px',
  color: INK,
  whiteSpace: 'pre',
};

export default function App() {
  return (
    <div style={{ position: 'fixed', left: 0, top: 0, width: 3286, height: 2010, background: '#ffffff', overflow: 'hidden' }}>
      <PriceChart />
      <div style={{ ...textStyle, left: 20, top: 17, letterSpacing: -0.08 }}>calebfranzen created with TradingView.com, Jan 25, 2026 09:53 UTC-5</div>
      <div style={{ ...textStyle, left: 36, top: 71, letterSpacing: -0.08 }}>ARKW/SPY · 1D · CBOE  +0.0006 (+0.30%)  Vol63.18{'\u2009'}M</div>
      <svg style={{ position: 'absolute', left: 24, top: 1934 }} width={60} height={30} viewBox="0 0 60 30">
        <path d="M0 0H24V30H12V12H0Z" fill="#131313" />
        <circle cx={33.5} cy={6.5} r={6} fill="#131313" />
        <path d="M44 0H60L47 30H34Z" fill="#131313" />
      </svg>
      <div style={{ ...textStyle, left: 97, top: 1923, fontSize: 40, lineHeight: '50px', letterSpacing: -0.2, fontWeight: 600, color: '#131313' }}>TradingView</div>
    </div>
  );
}
